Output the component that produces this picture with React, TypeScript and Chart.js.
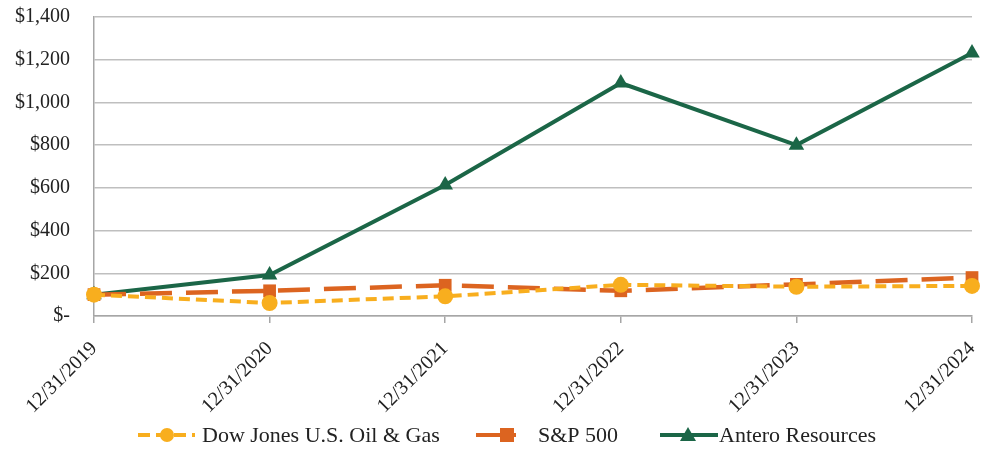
import React, { useEffect, useRef } from "react";
import { Chart, registerables } from "chart.js";

Chart.register(...registerables);

const categories = ["12/31/2019", "12/31/2020", "12/31/2021", "12/31/2022", "12/31/2023", "12/31/2024"];
const dowJones = [100, 61, 92, 146, 137, 141];
const sp500 = [100, 118, 144, 118, 148, 180];
const antero = [100, 192, 613, 1091, 800, 1231];
const yTicks = [0, 200, 400, 600, 800, 1000, 1200, 1400];

const FONT = "'Liberation Serif', 'Times New Roman', serif";
const C_DJ = "#F8AE1E";
const C_SP = "#DC6420";
const C_AR = "#1B6647";

const legendItems = [
  { label: "Dow Jones U.S. Oil & Gas", color: C_DJ, dash: [12, 6], style: "circle", x0: 138, x1: 195, mx: 167, tx: 202 },
  { label: "S&P 500", color: C_SP, dash: [], style: "rect", x0: 476, x1: 516, mx: 507, tx: 538 },
  { label: "Antero Resources", color: C_AR, dash: [], style: "triangle", x0: 660, x1: 718, mx: 688, tx: 719 },
];

const legendPlugin = {
  id: "customLegend",
  afterDraw(chart: any) {
    const ctx = chart.ctx;
    const y = 435;
    ctx.save();
    ctx.font = `22px ${FONT}`;
    legendItems.forEach((it) => {
      ctx.strokeStyle = it.color;
      ctx.fillStyle = it.color;
      ctx.lineWidth = 4;
      ctx.setLineDash(it.dash);
      ctx.beginPath();
      ctx.moveTo(it.x0, y);
      ctx.lineTo(it.x1, y);
      ctx.stroke();
      ctx.setLineDash([]);
      const cx = it.mx;
      ctx.beginPath();
      if (it.style === "circle") {
        ctx.arc(cx, y, 7, 0, Math.PI * 2);
        ctx.fill();
      } else if (it.style === "rect") {
        ctx.fillRect(cx - 7, y - 7, 14, 14);
      } else {
        ctx.moveTo(cx, y - 8);
        ctx.lineTo(cx + 8, y + 6);
        ctx.lineTo(cx - 8, y + 6);
        ctx.closePath();
        ctx.fill();
      }
      ctx.fillStyle = "#222";
      ctx.textBaseline = "middle";
      ctx.textAlign = "left";
      ctx.fillText(it.label, it.tx, y + 1);
    });
    ctx.restore();
  },
};

export default function App() {
  const ref = useRef<HTMLCanvasElement | null>(null);
  useEffect(() => {
    document.body.style.margin = "0";
    const canvas = ref.current!;
    const chart = new Chart(canvas, {
      type: "line",
      data: {
        labels: categories,
        datasets: [
          {
            label: "Dow Jones U.S. Oil & Gas",
            data: dowJones,
            borderColor: C_DJ,
            backgroundColor: C_DJ,
            borderWidth: 4,
            borderDash: [11, 6],
            pointStyle: "circle",
            pointRadius: 8,
            pointBorderWidth: 0,
            tension: 0,
          },
          {
            label: "S&P 500",
            data: sp500,
            borderColor: C_SP,
            backgroundColor: C_SP,
            borderWidth: 4.5,
            borderDash: [32, 14],
            pointStyle: "rect",
            pointRadius: 9,
            pointBorderWidth: 0,
            tension: 0,
          },
          {
            label: "Antero Resources",
            data: antero,
            borderColor: C_AR,
            backgroundColor: C_AR,
            borderWidth: 4,
            pointStyle: "triangle",
            pointRadius: 9,
            pointBorderWidth: 0,
            tension: 0,
          },
        ],
      },
      options: {
        animation: false,
        responsive: false,
        devicePixelRatio: 1,
        layout: { padding: { top: 17, right: 0, left: 0, bottom: 0 } },
        plugins: { legend: { display: false }, tooltip: { enabled: false } },
        scales: {
          x: {
            offset: false,
            grid: { drawOnChartArea: false, drawTicks: true, tickLength: 7, color: "#A6A6A6", lineWidth: 1.5 },
            border: { display: true, color: "#A6A6A6", width: 1.5 },
            ticks: {
              font: { family: FONT, size: 20 },
              color: "#222",
              maxRotation: 45,
              minRotation: 45,
              padding: 14,
              autoSkip: false,
            },
            afterFit(scale: any) {
              scale.height = 133;
              scale.paddingRight = 0;
              scale.paddingLeft = 0;
              scale.paddingTop = 0;
              scale.paddingBottom = 0;
            },
          },
          y: {
            min: 0,
            max: 1400,
            afterBuildTicks(scale: any) {
              scale.ticks = yTicks.map((v) => ({ value: v }));
            },
            grid: { drawTicks: false, color: "#BFBFBF", lineWidth: 1.5 },
            border: { display: true, color: "#A6A6A6", width: 1.5 },
            ticks: {
              font: { family: FONT, size: 20 },
              color: "#222",
              padding: 24,
              callback: (v: any) => (Number(v) === 0 ? "$-" : "$" + Number(v).toLocaleString("en-US")),
            },
            afterFit(scale: any) {
              scale.width = 94;
              scale.paddingTop = 0;
              scale.paddingBottom = 0;
            },
          },
        },
      },
      plugins: [legendPlugin],
    });
    return () => chart.destroy();
  }, []);
  return <canvas ref={ref} width={981} height={449} style={{ display: "block" }} />;
}
